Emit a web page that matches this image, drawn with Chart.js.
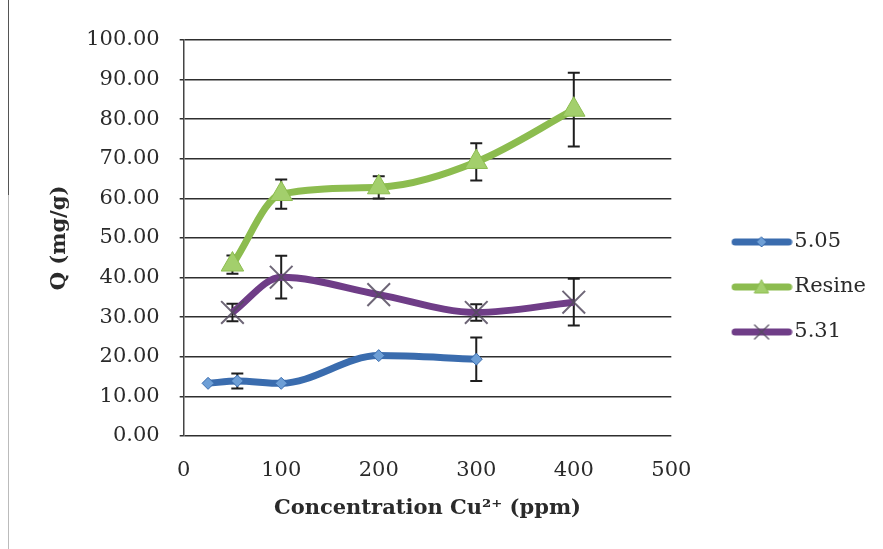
<!DOCTYPE html>
<html>
<head>
<meta charset="utf-8">
<script src="https://cdn.jsdelivr.net/npm/chart.js@4.4.1/dist/chart.umd.min.js"></script>
<style>
  html, body { margin: 0; padding: 0; background: #fff; }
  #wrap { position: relative; width: 883px; height: 549px; }
  #wrap::before {
    content: ""; position: absolute; left: 8px; top: 0; width: 1px; height: 549px;
    background: linear-gradient(#555 0, #555 195px, #bbb 195px, #bbb 549px);
  }
  canvas { display: block; }
</style>
</head>
<body>
<div id="wrap"><canvas id="chart" width="883" height="549"></canvas></div>
<script>
// Concentration Cu2+ (ppm)
const conc505 = [25, 55, 100, 200, 300];
const concResine = [50, 100, 200, 300, 400];
const conc531 = [50, 100, 200, 300, 400];

// Q (mg/g)
const q505 = [13.3, 13.9, 13.3, 20.3, 19.4];
const qResine = [43.3, 61.1, 62.8, 69.2, 82.4];
const q531 = [31.2, 40.1, 35.7, 31.2, 33.8];

// error bar half-lengths
const err505 = [0, 1.9, 0, 0, 5.5];
const errResine = [2.3, 3.7, 2.8, 4.7, 9.3];
const err531 = [2.2, 5.4, 0, 2.1, 5.9];

const xTicks = [0, 100, 200, 300, 400, 500];

const colors = {
    blue: "#3a6cae",
    blueFill: "#6e9fd6",
    green: "#8cbc4f",
    greenFill: "#a3cf6c",
    purple: "#6f3d87",
    cross: "rgba(85, 75, 95, 0.85)",
};

const serif = "'DejaVu Serif', serif";

const toPoints = (xs, ys) => xs.map((x, i) => ({ x: x, y: ys[i] }));

// little line + marker pictures for the legend
const legendIcon = (lineColor, drawMarker) => {
    const c = document.createElement("canvas");
    c.width = 106;
    c.height = 20;
    const g = c.getContext("2d");
    g.strokeStyle = lineColor;
    g.lineWidth = 7;
    g.lineCap = "round";
    g.beginPath();
    g.moveTo(48.5, 10);
    g.lineTo(102, 10);
    g.stroke();
    drawMarker(g, 75, 10);
    return c;
};

const iconBlue = legendIcon(colors.blue, (g, x, y) => {
    g.fillStyle = colors.blueFill;
    g.strokeStyle = colors.blue;
    g.lineWidth = 1;
    g.beginPath();
    g.moveTo(x, y - 5); g.lineTo(x + 5, y); g.lineTo(x, y + 5); g.lineTo(x - 5, y);
    g.closePath();
    g.fill(); g.stroke();
});
const iconGreen = legendIcon(colors.green, (g, x, y) => {
    g.fillStyle = colors.greenFill;
    g.strokeStyle = colors.green;
    g.lineWidth = 1;
    g.beginPath();
    g.moveTo(x, y - 7); g.lineTo(x + 7, y + 6); g.lineTo(x - 7, y + 6);
    g.closePath();
    g.fill(); g.stroke();
});
const iconPurple = legendIcon(colors.purple, (g, x, y) => {
    g.strokeStyle = colors.cross;
    g.lineWidth = 1.5;
    g.beginPath();
    g.moveTo(x - 7, y - 7); g.lineTo(x + 7, y + 7);
    g.moveTo(x + 7, y - 7); g.lineTo(x - 7, y + 7);
    g.stroke();
});

const errorBars = {
    id: "errorBars",
    beforeDatasetsDraw(chart) {
        const { ctx, scales } = chart;
        ctx.save();
        ctx.strokeStyle = "#1e1e1e";
        ctx.lineWidth = 2;
        chart.data.datasets.forEach((ds) => {
            ds.errors.forEach((e, i) => {
                if (!e) return;
                const p = ds.data[i];
                const px = scales.x.getPixelForValue(p.x);
                const top = scales.y.getPixelForValue(p.y + e);
                const bot = scales.y.getPixelForValue(p.y - e);
                ctx.beginPath();
                ctx.moveTo(px, top); ctx.lineTo(px, bot);
                ctx.moveTo(px - 6, top); ctx.lineTo(px + 6, top);
                ctx.moveTo(px - 6, bot); ctx.lineTo(px + 6, bot);
                ctx.stroke();
            });
        });
        ctx.restore();
    },
};

Chart.defaults.font.family = serif;
Chart.defaults.font.size = 21;
Chart.defaults.color = "#2a2a2a";

new Chart(document.getElementById("chart"), {
    type: "line",
    data: {
        datasets: [
            {
                label: "5.05",
                data: toPoints(conc505, q505),
                errors: err505,
                borderColor: colors.blue,
                borderWidth: 7,
                cubicInterpolationMode: "monotone",
                pointStyle: "rectRot",
                pointRadius: 6,
                pointBackgroundColor: colors.blueFill,
                pointBorderColor: colors.blue,
                pointBorderWidth: 1,
                legendIcon: iconBlue,
            },
            {
                label: "Resine",
                data: toPoints(concResine, qResine),
                errors: errResine,
                borderColor: colors.green,
                borderWidth: 7,
                cubicInterpolationMode: "monotone",
                pointStyle: "triangle",
                pointRadius: 13,
                pointBackgroundColor: colors.greenFill,
                pointBorderColor: colors.green,
                pointBorderWidth: 1,
                legendIcon: iconGreen,
            },
            {
                label: "5.31",
                data: toPoints(conc531, q531),
                errors: err531,
                borderColor: colors.purple,
                borderWidth: 7,
                cubicInterpolationMode: "monotone",
                pointStyle: "crossRot",
                pointRadius: 16,
                pointBorderColor: colors.cross,
                pointBorderWidth: 2,
                legendIcon: iconPurple,
            },
        ],
    },
    options: {
        responsive: false,
        animation: false,
        devicePixelRatio: 1,
        layout: {
            padding: { top: 40, right: 7, bottom: 15, left: 47 },
        },
        plugins: {
            tooltip: { enabled: false },
            legend: {
                position: "right",
                labels: {
                    usePointStyle: true,
                    pointStyleWidth: 88.5,
                    padding: 24,
                    color: "#2a2a2a",
                    font: { family: serif, size: 21 },
                    generateLabels: (chart) =>
                        chart.data.datasets.map((ds, i) => ({
                            text: ds.label,
                            pointStyle: ds.legendIcon,
                            datasetIndex: i,
                            lineWidth: 0,
                            fontColor: "#2a2a2a",
                        })),
                },
            },
        },
        scales: {
            x: {
                type: "linear",
                min: 0,
                max: 500,
                afterBuildTicks: (axis) => {
                    axis.ticks = xTicks.map((v) => ({ value: v }));
                },
                grid: { display: false, drawTicks: false },
                border: { display: false },
                ticks: { padding: 22, color: "#2a2a2a" },
                title: {
                    display: true,
                    text: "Concentration Cu²⁺ (ppm)",
                    font: { family: serif, size: 21, weight: "bold" },
                    color: "#2a2a2a",
                    padding: { top: -9, bottom: 12.6 },
                },
            },
            y: {
                min: 0,
                max: 100,
                ticks: {
                    stepSize: 10,
                    padding: 20,
                    color: "#2a2a2a",
                    callback: (v) => v.toFixed(2),
                },
                grid: { color: "#2e2e2e", lineWidth: 1.5, tickLength: 4 },
                border: { display: true, color: "#444", width: 1.5 },
                title: {
                    display: true,
                    text: "Q (mg/g)",
                    font: { family: serif, size: 21, weight: "bold" },
                    color: "#2a2a2a",
                    padding: { top: 0, bottom: -6 },
                },
            },
        },
    },
    plugins: [errorBars],
});
</script>
</body>
</html>
